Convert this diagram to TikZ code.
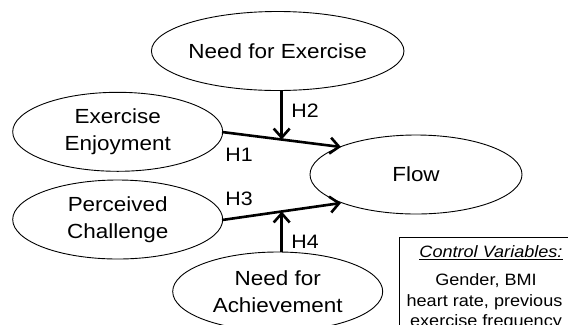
\documentclass[tikz,border=0pt]{standalone}
\usepackage{fontspec}
\setmainfont{Liberation Sans}[FakeStretch=1.1]
\usetikzlibrary{shapes.geometric,arrows.meta}
\begin{document}
\begin{tikzpicture}[x=1bp,y=-1bp,
  ell/.style={draw,ellipse,inner sep=0pt,line width=0.9bp,align=center,
    minimum width=210bp,minimum height=79bp,
    font=\fontsize{20.5}{27.5}\selectfont},
  lbl/.style={font=\fontsize{19.5}{24}\selectfont,inner sep=0pt},
  hyp/.style={line width=2.6bp,-{Straight Barb[length=9bp,width=16bp,line width=2.6bp]}},
  ctl/.style={font=\fontsize{16.5}{21}\selectfont,inner sep=0pt}]
\useasboundingbox (0,0) rectangle (568,324);
\clip (0,0) rectangle (568,324);
\node[ell] (ne) at (277.7,51) {Need for Exercise};
\node[ell] (ee) at (117.7,131.8) {Exercise\\Enjoyment};
\node[ell] (pc) at (117.7,219.5) {Perceived\\Challenge};
\node[ell,minimum width=212bp] (fl) at (416,174.5) {Flow};
\node[ell] (na) at (277.7,291.5) {Need for\\Achievement};
\coordinate (e1) at (222,132);
\coordinate (t1) at (341,147);
\coordinate (e3) at (222,220);
\coordinate (t3) at (341,203);
\coordinate (m1) at (281.7,139.5);
\coordinate (m3) at (281.7,211.5);
\draw[hyp] (e1) -- (t1);
\draw[hyp] (e3) -- (t3);
\draw[hyp] (ne.south -| m1) -- (m1);
\draw[hyp] (na.north -| m3) -- (m3);
\node[lbl] (h1) at (239,155) {H1};
\node[lbl] (h2) at (305,111) {H2};
\node[lbl] (h3) at (239,199) {H3};
\node[lbl] (h4) at (305,242) {H4};
\node[draw,line width=0.9bp,anchor=north west,minimum width=200bp,minimum height=120bp,inner sep=0pt] (box) at (398.5,236.5) {};
\node[ctl] (c1) at (491,253) {\underline{\itshape Control Variables:}};
\node[ctl] (c2) at (486,280.5) {Gender, BMI};
\node[ctl] (c3) at (484.5,302) {heart rate, previous};
\node[ctl] (c4) at (486,322.5) {exercise frequency};
\end{tikzpicture}
\end{document}
